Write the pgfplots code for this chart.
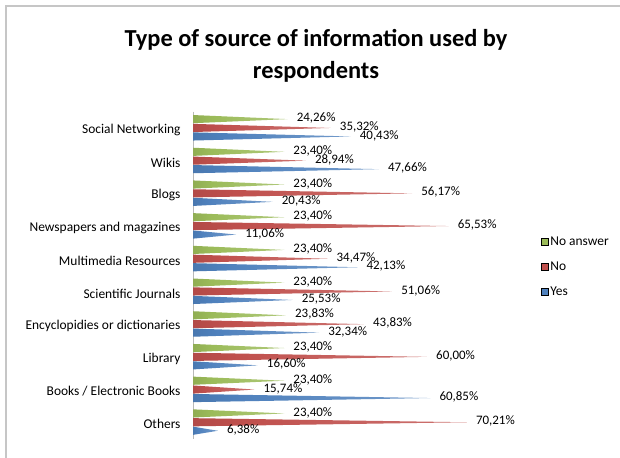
\documentclass[border=0pt]{standalone}
\usepackage{pgfplots}
\pgfplotsset{compat=1.18}
\usepackage{fontspec}
\setmainfont{Carlito}

\definecolor{cyes}{HTML}{4F81BD}
\definecolor{cno}{HTML}{C0504D}
\definecolor{cna}{HTML}{9BBB59}

% cone shading: dark at the base, fading to white at the tip
\pgfdeclarehorizontalshading{conecyes}{100bp}{color(0bp)=(cyes!75!black); color(35bp)=(cyes); color(75bp)=(cyes!80); color(100bp)=(cyes!8)}
\pgfdeclarehorizontalshading{conecno}{100bp}{color(0bp)=(cno!75!black); color(35bp)=(cno); color(75bp)=(cno!80); color(100bp)=(cno!8)}
\pgfdeclarehorizontalshading{conecna}{100bp}{color(0bp)=(cna!75!black); color(35bp)=(cna); color(75bp)=(cna!80); color(100bp)=(cna!8)}

\tikzset{lbl/.style={anchor=west, xshift=9bp, yshift=1bp, inner sep=0pt,
    font=\fontsize{13}{15}\selectfont,
    /pgf/number format/.cd, fixed, fixed zerofill, precision=2, use comma,
    assume math mode=true}}

% one cone-shaped bar: #1 category, #2 offset, #3 value, #4 colour
\newcommand\cone[4]{%
  \pgfmathsetmacro\ya{#1+#2-0.125}%
  \pgfmathsetmacro\yb{#1+#2}%
  \pgfmathsetmacro\yc{#1+#2+0.125}%
  \edef\temp{\noexpand\addplot[draw=none, shading=cone#4, forget plot]
    coordinates {(0,\ya) (#3,\yb) (0,\yc)} --cycle;
    \noexpand\node[lbl] at (axis cs:#3,\yb) {\noexpand\pgfmathprintnumber{#3}\noexpand\%};}%
  \temp}

\begin{document}
\begin{tikzpicture}
\useasboundingbox (0,0) rectangle (620bp,458bp);
\fill[white] (0,0) rectangle (620bp,458bp);
\draw[gray!45, line width=1.2bp] (6bp,0) -- (6bp,452bp) -- (620bp,452bp);

\node[font=\fontsize{24.5}{32}\selectfont\bfseries, align=center] at (316bp,402bp)
  {Type of source of information used by\\respondents};

\begin{axis}[
  at={(193bp,19.4bp)}, anchor=south west,
  width=312bp, height=327bp, scale only axis,
  xmin=0, xmax=80, ymin=-0.5, ymax=9.5,
  y dir=reverse,
  axis x line=none, axis y line*=left,
  y axis line style={gray!55, line width=1bp},
  ytick={0,...,9},
  yticklabels={Social Networking, Wikis, Blogs, Newspapers and magazines,
    Multimedia Resources, Scientific Journals, Encyclopidies or dictionaries,
    Library, Books / Electronic Books, Others},
  ytick style={draw=none},
  yticklabel style={font=\fontsize{13.5}{15}\selectfont, xshift=-9bp, yshift=-2bp},
  clip=false,
  legend style={at={(axis description cs:1.105,0.63)}, anchor=north west,
    draw=none, fill=none, row sep=11bp, font=\fontsize{13.5}{15}\selectfont,
    legend cell align=left},
  legend image code/.code={\fill[#1] (0bp,-3.5bp) rectangle (7bp,3.5bp);},
]
\addlegendimage{fill=cna}
\addlegendentry{No answer}
\addlegendimage{fill=cno}
\addlegendentry{No}
\addlegendimage{fill=cyes}
\addlegendentry{Yes}

% No answer (green), No (red), Yes (blue)
\cone{0}{-0.27}{24.26}{cna} \cone{0}{0}{35.32}{cno} \cone{0}{0.26}{40.43}{cyes}
\cone{1}{-0.27}{23.40}{cna} \cone{1}{0}{28.94}{cno} \cone{1}{0.26}{47.66}{cyes}
\cone{2}{-0.27}{23.40}{cna} \cone{2}{0}{56.17}{cno} \cone{2}{0.26}{20.43}{cyes}
\cone{3}{-0.27}{23.40}{cna} \cone{3}{0}{65.53}{cno} \cone{3}{0.26}{11.06}{cyes}
\cone{4}{-0.27}{23.40}{cna} \cone{4}{0}{34.47}{cno} \cone{4}{0.26}{42.13}{cyes}
\cone{5}{-0.27}{23.40}{cna} \cone{5}{0}{51.06}{cno} \cone{5}{0.26}{25.53}{cyes}
\cone{6}{-0.27}{23.83}{cna} \cone{6}{0}{43.83}{cno} \cone{6}{0.26}{32.34}{cyes}
\cone{7}{-0.27}{23.40}{cna} \cone{7}{0}{60.00}{cno} \cone{7}{0.26}{16.60}{cyes}
\cone{8}{-0.27}{23.40}{cna} \cone{8}{0}{15.74}{cno} \cone{8}{0.26}{60.85}{cyes}
\cone{9}{-0.27}{23.40}{cna} \cone{9}{0}{70.21}{cno} \cone{9}{0.26}{6.38}{cyes}
\end{axis}
\end{tikzpicture}
\end{document}
